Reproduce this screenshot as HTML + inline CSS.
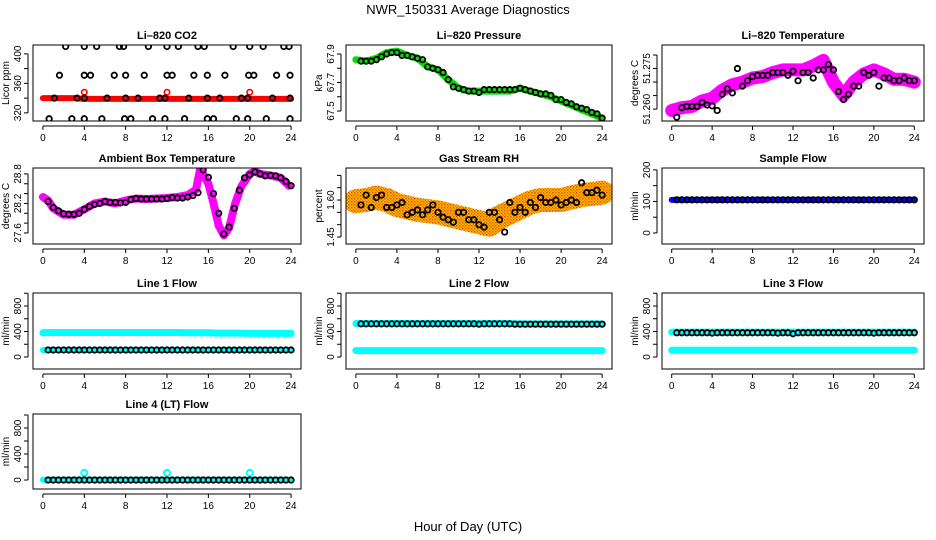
<!DOCTYPE html>
<html><head><meta charset="utf-8"><style>
body{margin:0;background:#fff}
svg{display:block;font-family:"Liberation Sans",sans-serif}
</style></head><body>
<svg id="c" width="936" height="540" viewBox="0 0 936 540">
<defs>
<pattern id="rhpat" width="3" height="3" patternUnits="userSpaceOnUse"><rect width="3" height="3" fill="#ffd000"/><rect x="0" y="0" width="1.5" height="1.5" fill="#e84000"/><rect x="1.5" y="1.5" width="1.5" height="1.5" fill="#f07000"/></pattern>
</defs>
<text x="468" y="14" text-anchor="middle" font-size="13">NWR_150331  Average Diagnostics</text>
<text x="468" y="531" text-anchor="middle" font-size="13">Hour of Day (UTC)</text>
</svg>
<script>
const HOURS=[0,1,2,3,4,5,6,7,8,9,10,11,12,13,14,15,16,17,18,19,20,21,22,23,24];
const BX=[0.5,1,1.5,2,2.5,3,3.5,4,4.5,5,5.5,6,6.5,7,7.5,8,8.5,9,9.5,10,10.5,11,11.5,12,12.5,13,13.5,14,14.5,15,15.5,16,16.5,17,17.5,18,18.5,19,19.5,20,20.5,21,21.5,22,22.5,23,23.5,24];
const X_TICKS=[0,4,8,12,16,20,24];
// CO2
const CO2_RED=[340,340,340,340,339,339,339,339,339,339,339,339,339,339,339,339,339,339,339,339,339,339,339,339,339];
const CO2_RED_SPIKE_X=[4,12,20];
const CO2_RED_SPIKE_Y=[348,348,348];
const CO2_BX=[2.2,4,5.2,7.4,7.8,10.2,12,13.1,15,15.6,18.4,20,21.3,23.3,23.8,1.6,4,4.6,6.9,8,9.8,12,12.5,14.6,15.9,17.6,19.9,20.4,22.6,23.9,1.1,3.3,4,6.2,8,9.2,11.3,11.8,14.1,15.9,17.1,19.2,19.8,22.2,23.9,0.6,2.8,4,5.7,7.9,8.5,10.6,11.8,13.7,15.9,16.5,18.7,19.8,21.6,23.9];
const CO2_BY=[410,410,410,410,410,410,410,410,410,410,410,410,410,410,410,371,371,371,371,371,371,371,371,371,371,371,371,371,371,371,340,340,340,340,340,340,340,340,340,340,340,340,340,340,340,312,312,312,312,312,312,312,312,312,312,312,312,312,312,312];
// Pressure
const P_GREEN=[67.86,67.85,67.87,67.91,67.92,67.89,67.87,67.81,67.79,67.72,67.66,67.64,67.64,67.64,67.64,67.64,67.66,67.64,67.62,67.60,67.57,67.54,67.51,67.48,67.45];
const P_BLACK=[67.85,67.85,67.85,67.86,67.88,67.9,67.91,67.91,67.89,67.89,67.88,67.87,67.86,67.81,67.8,67.79,67.77,67.72,67.67,67.66,67.65,67.64,67.64,67.63,67.65,67.65,67.65,67.65,67.65,67.65,67.65,67.66,67.65,67.64,67.63,67.62,67.62,67.61,67.58,67.58,67.56,67.55,67.53,67.52,67.51,67.49,67.48,67.45];
// Li-820 temperature
const T_MAG=[51.2595,51.2605,51.261,51.263,51.264,51.267,51.269,51.270,51.2715,51.272,51.2735,51.2745,51.2745,51.2745,51.276,51.278,51.270,51.265,51.270,51.273,51.2745,51.273,51.271,51.271,51.270];
const T_BLACK=[51.257,51.2605,51.261,51.261,51.261,51.2625,51.2615,51.2612,51.2595,51.2655,51.2675,51.266,51.275,51.2685,51.2705,51.272,51.2725,51.2725,51.2725,51.2735,51.2735,51.2735,51.2725,51.274,51.2705,51.2735,51.2735,51.2715,51.2745,51.2745,51.2765,51.2745,51.2665,51.2635,51.2655,51.2685,51.2685,51.2735,51.2725,51.2735,51.2685,51.2715,51.2715,51.2705,51.2705,51.2715,51.2705,51.2705];
// Ambient
const A_X=[0,0.5,1,2,3,4,5,6,7,8,9,10,11,12,13,14,14.8,15.2,16,16.5,17,17.5,18,18.6,19.2,20,20.5,21,22,23,23.8];
const A_MAG=[28.33,28.26,28.1,27.97,27.97,28.08,28.2,28.24,28.2,28.26,28.3,28.29,28.3,28.31,28.33,28.37,28.48,28.9,28.6,28.2,27.75,27.55,27.7,28.2,28.55,28.8,28.85,28.8,28.77,28.72,28.56];
const A_BLACK=[28.24,28.12,28.05,27.99,27.98,27.98,28.0,28.08,28.14,28.18,28.2,28.24,28.22,28.22,28.21,28.22,28.28,28.3,28.29,28.29,28.29,28.29,28.29,28.3,28.32,28.31,28.31,28.33,28.36,28.42,28.88,28.73,28.4,28.0,27.58,27.72,28.1,28.47,28.72,28.78,28.84,28.8,28.76,28.77,28.76,28.72,28.65,28.56];
// Gas RH
const RH_ORANGE=[1.595,1.6,1.61,1.6,1.58,1.57,1.56,1.555,1.55,1.54,1.53,1.52,1.51,1.50,1.53,1.55,1.57,1.59,1.6,1.6,1.6,1.61,1.62,1.625,1.63];
const RH_BLACK=[1.58,1.62,1.57,1.61,1.62,1.57,1.57,1.58,1.59,1.54,1.55,1.56,1.54,1.56,1.58,1.55,1.53,1.52,1.51,1.55,1.55,1.52,1.52,1.50,1.49,1.55,1.55,1.52,1.47,1.59,1.55,1.57,1.55,1.59,1.57,1.61,1.59,1.59,1.6,1.58,1.59,1.6,1.59,1.67,1.63,1.63,1.64,1.62];
// Flows
const SF_BLUE=[105,105,105,105,105,105,105,105,105,105,105,105,105,105,105,105,105,105,105,105,105,105,105,105,105];
const SF_BLACK=[105,105,105,105,105,105,105,105,105,105,105,105,105,105,105,105,105,105,105,105,105,105,105,105,105,105,105,105,105,105,105,105,105,105,105,105,105,105,105,105,105,105,105,105,105,105,105,105];
const L1_HI=[380,385,385,385,385,385,385,385,385,385,385,385,385,385,380,380,380,375,375,375,370,370,370,370,370];
const L1_LO=[110,110,110,110,110,110,110,110,110,110,110,110,110,110,110,110,110,110,110,110,110,110,110,110,110];
const L1_BLACK=[110,110,110,110,110,110,110,110,110,110,110,110,110,110,110,110,110,110,110,110,110,110,110,110,110,110,110,110,110,110,110,110,110,110,110,110,110,110,110,110,110,110,110,110,110,110,110,110];
const L2_HI=[525,525,525,525,525,525,525,525,525,525,525,525,525,525,525,525,520,520,520,520,520,520,520,520,520];
const L2_LO=[100,100,100,100,100,100,100,100,100,100,100,100,100,100,100,100,100,100,100,100,100,100,100,100,100];
const L2_BLACK=[520,520,520,520,520,520,520,520,520,520,520,520,520,520,520,520,520,520,520,520,520,520,520,515,520,520,520,520,520,520,515,515,515,515,515,515,515,515,515,515,515,515,515,515,515,515,515,515];
const L3_HI=[390,390,390,390,390,390,390,390,390,390,390,390,390,390,390,390,390,390,390,390,390,390,390,390,390];
const L3_LO=[105,105,105,105,105,105,105,105,105,105,105,105,105,105,105,105,105,105,105,105,105,105,105,105,105];
const L3_BLACK=[380,380,380,380,380,380,380,375,380,380,380,380,380,380,380,380,380,380,380,380,375,380,380,365,380,380,380,380,380,380,380,380,380,380,380,380,380,380,380,375,380,380,380,380,380,380,380,380];
const L4_CYAN=[5,5,5,5,5,5,5,5,5,5,5,5,5,5,5,5,5,5,5,5,5,5,5,5,5];
const L4_SPIKE_X=[4,12,20];
const L4_SPIKE_Y=[110,110,110];
const L4_BLACK=[0,0,0,0,0,0,0,0,0,0,0,0,0,0,0,0,0,0,0,0,0,0,0,0,0,0,0,0,0,0,0,0,0,0,0,0,0,0,0,0,0,0,0,0,0,0,0,0];

const svg=document.getElementById('c');
const NS='http://www.w3.org/2000/svg';
function mk(tag,attrs,parent){const e=document.createElementNS(NS,tag);for(const k in attrs)e.setAttribute(k,attrs[k]);(parent||svg).appendChild(e);return e;}
const COLS=[[33,301],[346,612],[662,924]];
const ROWS=[[45,121],[168,244],[293,369],[414,489]];
function panel(name,title,ylab,c,r,ylo,yhi,ticks,labels){
  const [x0,x1]=COLS[c],[y0,y1]=ROWS[r];
  const g=mk('g',{});
  
  
  const sx=v=>x0+(v+0.96)/25.92*(x1-x0);
  const sy=v=>y1-(v-ylo)/(yhi-ylo)*(y1-y0);
  const t=mk('text',{x:(x0+x1)/2,y:y0-6,'text-anchor':'middle','font-size':11,'font-weight':'bold'},g);t.textContent=title;
  
  
  const yl=mk('text',{x:0,y:0,'text-anchor':'middle','font-size':10,transform:`translate(${x0-24},${(y0+y1)/2}) rotate(-90)`},g);yl.textContent=ylab;
  
  
  mk('line',{x1:sx(0),x2:sx(24),y1:y1+5,y2:y1+5,stroke:'#000'},g);
  X_TICKS.forEach(v=>{mk('line',{x1:sx(v),x2:sx(v),y1:y1+5,y2:y1+9,stroke:'#000'},g);
    const tt=mk('text',{x:sx(v),y:y1+20,'text-anchor':'middle','font-size':10},g);tt.textContent=v;
    
    });
  mk('line',{x1:x0-5,x2:x0-5,y1:sy(ticks[0]),y2:sy(ticks[ticks.length-1]),stroke:'#000'},g);
  ticks.forEach((v,i)=>{mk('line',{x1:x0-9,x2:x0-5,y1:sy(v),y2:sy(v),stroke:'#000'},g);
    if(labels[i]){const tt=mk('text',{x:0,y:0,'text-anchor':'middle','font-size':10,transform:`translate(${x0-12},${sy(v)}) rotate(-90)`},g);tt.textContent=labels[i];
    
    }});
  const clip='cl'+name;
  const cp=mk('clipPath',{id:clip},g);mk('rect',{x:x0,y:y0,width:x1-x0,height:y1-y0},cp);
  const p=mk('g',{'clip-path':`url(#${clip})`},g);
  const box=mk('rect',{x:x0,y:y0,width:x1-x0,height:y1-y0,fill:'none',stroke:'#000'},g);
  
  
  return {sx,sy,p,g};
}
function band(P,xs,ys,color,w,nm){
  const d=xs.map((x,i)=>(i?'L':'M')+P.sx(x).toFixed(1)+','+P.sy(ys[i]).toFixed(1)).join('');
  const e=mk('path',{d,fill:'none',stroke:color,'stroke-width':w,'stroke-linejoin':'round','stroke-linecap':'round'},P.p);
  
  
}
function pts(P,xs,ys,color,r,sw,nm){
  xs.forEach((x,i)=>{const e=mk('circle',{cx:P.sx(x),cy:P.sy(ys[i]),r,fill:'none',stroke:color,'stroke-width':sw},P.p);
  
  });
}
const flowT=[0,200,400,600,800,1000],flowL=['0','','400','','800',''];
// 1 CO2
let P=panel('co2-panel','Li\u2013820 CO2','Licor ppm',0,0,309,412,[320,340,360,380,400],['320','','360','','400']);
band(P,HOURS,CO2_RED,'#f00',6,'co2-red-series');
pts(P,CO2_RED_SPIKE_X,CO2_RED_SPIKE_Y,'#f00',2.7,1.6,'co2-red-point');
pts(P,CO2_BX,CO2_BY,'#000',2.7,1.8,'co2-black-point');
// 2 Pressure
P=panel('pressure-panel','Li\u2013820 Pressure','kPa',1,0,67.43,67.963,[67.5,67.6,67.7,67.8,67.9],['67.5','','67.7','','67.9']);
band(P,HOURS,P_GREEN,'#00e000',7,'pressure-green-series');
pts(P,BX,P_BLACK,'#000',2.7,1.8,'pressure-black-point');
// 3 Temp
P=panel('li820-temp-panel','Li\u2013820 Temperature','degrees C',2,0,51.2556,51.2837,[51.26,51.265,51.27,51.275,51.28],['51.260','','','51.275','']);
band(P,HOURS,T_MAG,'#f0f',13,'li820-temp-magenta-series');
pts(P,BX,T_BLACK,'#000',2.7,1.8,'li820-temp-black-point');
// 4 Ambient
P=panel('ambient-temp-panel','Ambient Box Temperature','degrees C',0,1,27.376,28.92,[27.6,27.8,28.0,28.2,28.4,28.6,28.8],['27.6','','','28.2','','','28.8']);
band(P,A_X,A_MAG,'#f0f',8,'ambient-magenta-series');
pts(P,BX,A_BLACK,'#000',2.7,1.8,'ambient-black-point');
// 5 RH
P=panel('gas-rh-panel','Gas Stream RH','percent',1,1,1.4216,1.73,[1.45,1.5,1.55,1.6,1.65,1.7],['1.45','','','1.60','','']);
band(P,HOURS,RH_ORANGE,'url(#rhpat)',24,'rh-orange-series');
pts(P,BX,RH_BLACK,'#000',2.7,1.8,'rh-black-point');
// 6 Sample flow
P=panel('sample-flow-panel','Sample Flow','ml/min',2,1,-35,206,[0,50,100,150,200],['0','','100','','200']);
band(P,HOURS,SF_BLUE,'#00f',6,'sample-flow-blue-series');
pts(P,BX,SF_BLACK,'#000',2.7,1.8,'sample-flow-black-point');
// 7 Line1
P=panel('line1-flow-panel','Line 1 Flow','ml/min',0,2,-188,1004,flowT,flowL);
band(P,HOURS,L1_HI,'#0ff',7,'line1-cyan-high');
band(P,HOURS,L1_LO,'#0ff',6,'line1-cyan-low');
pts(P,BX,L1_BLACK,'#000',2.7,1.8,'line1-black-point');
// 8 Line2
P=panel('line2-flow-panel','Line 2 Flow','ml/min',1,2,-188,1004,flowT,flowL);
band(P,HOURS,L2_HI,'#0ff',7,'line2-cyan-high');
band(P,HOURS,L2_LO,'#0ff',7,'line2-cyan-low');
pts(P,BX,L2_BLACK,'#000',2.7,1.8,'line2-black-point');
// 9 Line3
P=panel('line3-flow-panel','Line 3 Flow','ml/min',2,2,-188,1004,flowT,flowL);
band(P,HOURS,L3_HI,'#0ff',7,'line3-cyan-high');
band(P,HOURS,L3_LO,'#0ff',7,'line3-cyan-low');
pts(P,BX,L3_BLACK,'#000',2.7,1.8,'line3-black-point');
// 10 Line4
P=panel('line4-flow-panel','Line 4 (LT) Flow','ml/min',0,3,-138,1015,flowT,flowL);
band(P,HOURS,L4_CYAN,'#0ff',6,'line4-cyan-series');
pts(P,L4_SPIKE_X,L4_SPIKE_Y,'#0ff',3,2,'line4-cyan-point');
pts(P,BX,L4_BLACK,'#000',2.7,1.8,'line4-black-point');
</script>
</body></html>
